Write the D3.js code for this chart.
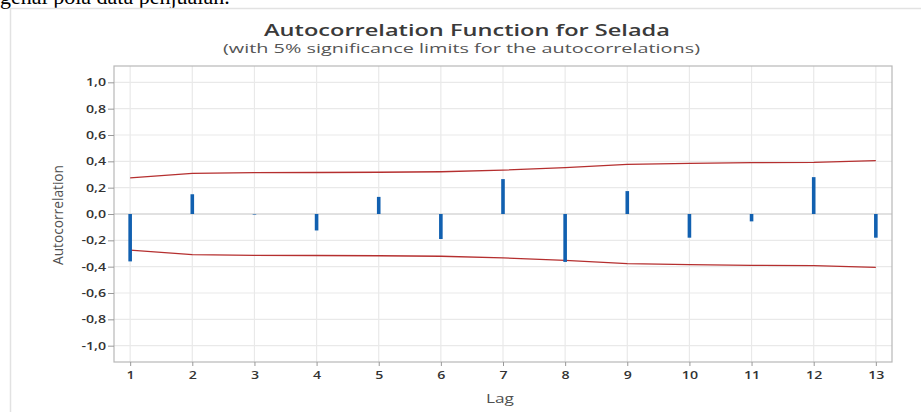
<!DOCTYPE html>
<html>
<head>
<meta charset="utf-8">
<script src="https://cdn.jsdelivr.net/npm/d3@7"></script>
<style>
  body { margin: 0; background: #ffffff; }
  svg { display: block; }
</style>
</head>
<body>
<svg id="Chart"></svg>
<script>
// ACF values
let lags = [1, 2, 3, 4, 5, 6, 7, 8, 9, 10, 11, 12, 13]
let acfValues = [-0.36, 0.15, -0.004, -0.125, 0.13, -0.19, 0.265, -0.364, 0.174, -0.18, -0.056, 0.28, -0.18]
let upperLimits = [0.275, 0.309, 0.314, 0.315, 0.317, 0.321, 0.333, 0.352, 0.377, 0.384, 0.390, 0.392, 0.406]
let lowerLimits = upperLimits.map(v => -v)
let yTicks = [-1.0, -0.8, -0.6, -0.4, -0.2, 0.0, 0.2, 0.4, 0.6, 0.8, 1.0]

let config = {}

function initConfig() {
    let width = 921
    let height = 412
    let plot = {left: 114, right: 892, top: 66, bottom: 362}
    let container = d3.select("#Chart")
        .attr("width", width)
        .attr("height", height)
    let fontFamily = "'Open Sans', 'Noto Sans', sans-serif"
    config = {width, height, plot, container, fontFamily,
        barColor: "#1160b0", limitColor: "#b52f2f", gridColor: "#e9e9e9",
        frameColor: "#b8b8b8", textColor: "#333333"}
}

// the reference image is stretched sideways, so widen tick labels a bit
function widen(selection, factor) {
    selection.each(function() {
        let w = this.getComputedTextLength()
        d3.select(this)
            .attr("textLength", w * factor)
            .attr("lengthAdjust", "spacingAndGlyphs")
    })
}

function drawChart() {
    let {container, plot, fontFamily, barColor, limitColor, gridColor, frameColor, textColor} = config

    let x = d3.scaleLinear().domain([0.74, 13.26]).range([plot.left, plot.right])
    let y = d3.scaleLinear().domain([-1.124, 1.124]).range([plot.bottom, plot.top])

    // leftover text of the surrounding document and the picture border
    container.append("text")
        .attr("x", 0).attr("y", 4)
        .attr("font-family", "'Liberation Serif', serif")
        .attr("font-size", "22px")
        .attr("fill", "#000")
        .text("genal pola data penjualan.")
    container.append("path")
        .attr("d", "M10.5,412 V8.5 H921")
        .attr("fill", "none")
        .attr("stroke", "#e2e2e2")
        .attr("stroke-width", 1.5)

    // gridlines
    container.append("g").selectAll("line").data(lags).enter().append("line")
        .attr("x1", d => x(d)).attr("x2", d => x(d))
        .attr("y1", plot.top).attr("y2", plot.bottom)
        .attr("stroke", gridColor).attr("stroke-width", 1.2)
    container.append("g").selectAll("line").data(yTicks).enter().append("line")
        .attr("x1", plot.left).attr("x2", plot.right)
        .attr("y1", d => y(d)).attr("y2", d => y(d))
        .attr("stroke", d => d === 0 ? "#c4c4c4" : gridColor)
        .attr("stroke-width", 1.2)

    // frame
    container.append("rect")
        .attr("x", plot.left).attr("y", plot.top)
        .attr("width", plot.right - plot.left).attr("height", plot.bottom - plot.top)
        .attr("fill", "none").attr("stroke", frameColor).attr("stroke-width", 1.2)

    // axes
    let yAxis = d3.axisLeft(y).tickValues(yTicks).tickSize(6).tickPadding(2)
        .tickFormat(d => d.toFixed(1).replace(".", ","))
    let gy = container.append("g").attr("transform", `translate(${plot.left},0)`).call(yAxis)
    gy.select(".domain").remove()
    gy.selectAll(".tick line").attr("stroke", "#999")
    gy.selectAll(".tick text")
        .attr("font-family", fontFamily).attr("font-size", "10.5px")
        .attr("font-weight", 600).attr("fill", textColor)
        .call(widen, 1.35)

    let xAxis = d3.axisBottom(x).tickValues(lags).tickSize(4).tickPadding(6)
        .tickFormat(d3.format("d"))
    let gx = container.append("g").attr("transform", `translate(0,${plot.bottom})`).call(xAxis)
    gx.select(".domain").remove()
    gx.selectAll(".tick line").attr("stroke", "#999")
    gx.selectAll(".tick text")
        .attr("font-family", fontFamily).attr("font-size", "10.5px")
        .attr("font-weight", 600).attr("fill", textColor)
        .call(widen, 1.35)

    // significance limits
    let line = d3.line().x((d, i) => x(lags[i])).y(d => y(d))
    ;[upperLimits, lowerLimits].forEach(lim => {
        container.append("path")
            .attr("d", line(lim))
            .attr("fill", "none")
            .attr("stroke", limitColor)
            .attr("stroke-width", 1.3)
    })

    // acf bars
    container.append("g").selectAll("line").data(acfValues).enter().append("line")
        .attr("x1", (d, i) => x(lags[i])).attr("x2", (d, i) => x(lags[i]))
        .attr("y1", y(0)).attr("y2", d => y(d))
        .attr("stroke", barColor).attr("stroke-width", 3.6)

    // titles
    container.append("text")
        .attr("x", 264).attr("y", 36)
        .attr("textLength", 406).attr("lengthAdjust", "spacingAndGlyphs")
        .attr("font-family", fontFamily).attr("font-size", "15.5px")
        .attr("font-weight", 600).attr("fill", "#3a3a3a")
        .text("Autocorrelation Function for Selada")
    container.append("text")
        .attr("x", 223).attr("y", 53)
        .attr("textLength", 477).attr("lengthAdjust", "spacingAndGlyphs")
        .attr("font-family", fontFamily).attr("font-size", "12.5px")
        .attr("fill", "#555")
        .text("(with 5% significance limits for the autocorrelations)")

    container.append("text")
        .attr("x", 486).attr("y", 403)
        .attr("textLength", 28).attr("lengthAdjust", "spacingAndGlyphs")
        .attr("font-family", fontFamily).attr("font-size", "13.5px")
        .attr("fill", "#505050")
        .text("Lag")

    container.append("text")
        .attr("transform", "translate(63,265) rotate(-90)")
        .attr("textLength", 100).attr("lengthAdjust", "spacingAndGlyphs")
        .attr("font-family", fontFamily).attr("font-size", "14px")
        .attr("fill", "#505050")
        .text("Autocorrelation")
}

initConfig()
drawChart()
</script>
</body>
</html>
